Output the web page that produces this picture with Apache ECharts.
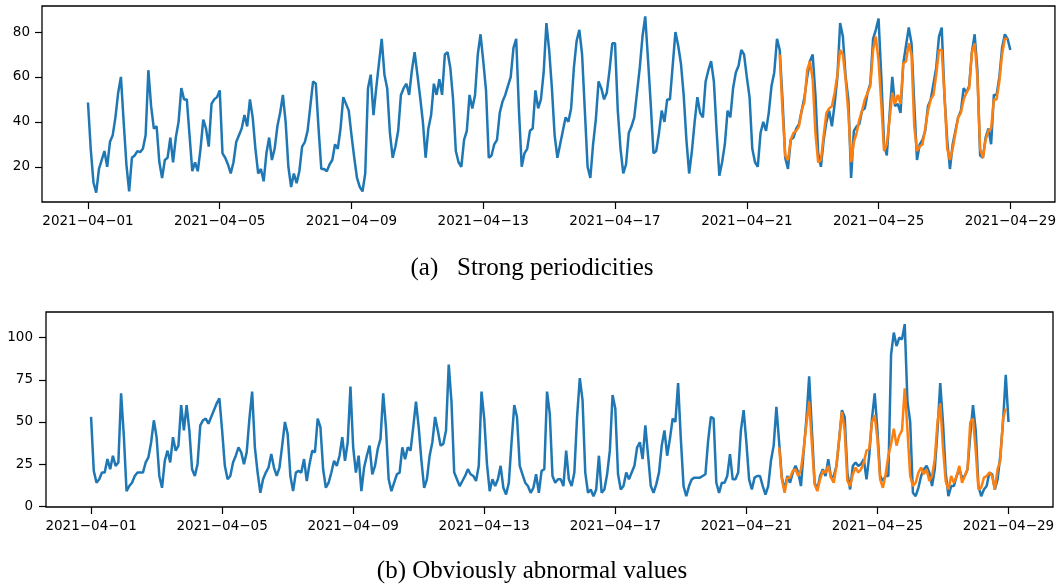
<!DOCTYPE html>
<html>
<head>
<meta charset="utf-8">
<script src="https://cdn.jsdelivr.net/npm/echarts@6/dist/echarts.min.js"></script>
<style>
  html, body { margin: 0; padding: 0; background: #fff; }
  #chart { width: 1059px; height: 587px; }
</style>
</head>
<body>
<div id="chart"></div>
<script>
// readings every 2 hours, starting 2021-04-01 00:00
const STEP_HOURS = 2;
const ORANGE_START_HOUR = 504; // 2021-04-22 00:00

const tickHours = [0, 96, 192, 288, 384, 480, 576, 672];
const tickLabels = ['2021\u221204\u221201', '2021\u221204\u221205', '2021\u221204\u221209', '2021\u221204\u221213',
  '2021\u221204\u221217', '2021\u221204\u221221', '2021\u221204\u221225', '2021\u221204\u221229'];

// (a) strong periodicities
const actualA = [
  48.6, 28, 13, 8.5, 19, 23, 27, 20, 31, 34, 42, 53,
  60, 40, 21, 9, 24, 25, 27, 26.5, 28, 34, 63, 47,
  37, 38, 22, 15, 23, 24, 33, 22, 33, 40, 55, 50,
  50, 34, 18, 22, 18, 28, 41, 37, 29, 48, 50, 51,
  54, 26, 24, 21, 17, 22, 31, 34, 37, 43, 38, 50,
  42, 28, 17, 19, 13.5, 26, 33, 23, 28, 38, 44, 52,
  40, 20, 11, 17, 12.7, 18, 29, 31, 36, 47, 58, 57,
  37, 19, 19, 18, 21, 23, 30, 28, 37, 51, 48, 45,
  34, 24, 15, 11, 9, 17, 55, 61, 43, 55, 66, 77,
  61, 55, 35, 24, 29, 36, 52, 55, 57, 52, 63, 71,
  61, 51, 40, 24, 37, 43, 57, 52, 59, 52, 70, 71,
  64, 50, 27, 22, 20, 32, 36, 52, 46, 52, 70, 79,
  67, 54, 24, 25, 30, 32, 44, 49, 52, 56, 60, 73,
  77, 45, 20, 26, 28, 36, 37, 54, 46, 50, 62, 84,
  72, 55, 34, 24, 30, 36, 42, 40, 46, 64, 76, 81,
  70, 45, 20, 15, 30, 41, 58, 55, 50, 53, 63, 75,
  75, 45, 28, 17, 21, 35, 38, 42, 53, 64, 78, 87,
  68, 48, 26, 27, 35, 45, 40, 50, 50, 65, 80, 74,
  66, 52, 32, 17, 27, 40, 51, 44, 42, 58, 63, 67,
  58, 36, 16, 22, 30, 45, 42, 55, 62, 65, 72, 70,
  60, 51, 28, 22, 20, 35, 40, 36, 44, 56, 62, 77,
  72, 50, 24, 19, 32, 33, 37, 39, 45, 51, 60, 67,
  70, 52, 26, 20, 32, 40, 45, 38, 48, 60, 84, 78,
  60, 50, 15, 36, 38, 39, 45, 46, 53, 57, 77, 81,
  86, 60, 30, 25, 43, 60, 47, 48, 44, 66, 74, 82,
  75, 48, 23, 30, 32, 36, 47, 50, 57, 64, 78, 82,
  52, 32, 19, 30, 36, 42, 45, 55, 53, 56, 71, 79,
  63, 25, 24, 33, 37, 30, 52, 52, 60, 73, 79, 77,
  72
];
const predictedA = [
  70, 45, 25, 23, 32, 35, 36, 38, 45, 49, 63, 67,
  59, 35, 22, 23, 34, 44, 46, 47, 53, 61, 72, 70,
  59, 44, 22, 31, 35, 41, 45, 50, 53, 56, 72, 78,
  67, 48, 27, 30, 41, 53, 48, 52, 48, 66, 67, 75,
  70, 38, 27, 29, 30, 37, 45, 50, 52, 61, 72, 72,
  52, 28, 23, 28, 35, 42, 44, 50, 53, 55, 71, 75,
  60, 28, 24, 32, 36, 37, 50, 50, 58, 70, 77, 77
];

// (b) obviously abnormal values
const actualB = [
  53, 21, 14, 16, 20, 20, 28, 22, 30, 24, 26, 67,
  42, 9, 12, 14, 18, 20, 20, 20, 26, 29, 38, 51,
  41, 18, 11, 27, 33, 26, 41, 33, 36, 60, 45, 60,
  45, 22, 18, 25, 48, 51, 52, 49, 53, 57, 61, 64,
  45, 24, 16, 18, 26, 30, 35, 32, 25, 32, 52, 68,
  35, 20, 8, 16, 20, 23, 31, 23, 18, 23, 36, 50,
  43, 18, 9, 20, 21, 20, 28, 15, 25, 33, 32, 52,
  47, 22, 11, 14, 20, 27, 24, 30, 41, 27, 38, 71,
  35, 20, 30, 9, 23, 30, 36, 19, 24, 34, 40, 67,
  47, 16, 9, 14, 19, 20, 35, 28, 35, 33, 47, 62,
  47, 27, 11, 16, 30, 38, 53, 45, 36, 37, 45, 84,
  62, 20, 16, 12, 15, 18, 22, 19, 18, 15, 24, 68,
  52, 25, 9, 16, 12, 16, 24, 11, 7, 14, 38, 60,
  53, 24, 19, 14, 12, 8, 11, 19, 8, 21, 22, 68,
  55, 18, 14, 16, 16, 12, 33, 16, 12, 20, 53, 76,
  63, 20, 8, 10, 6, 10, 30, 8, 10, 19, 33, 66,
  58, 19, 10, 12, 20, 16, 20, 24, 35, 38, 28, 48,
  30, 12, 8, 13, 20, 36, 45, 30, 40, 52, 50, 73,
  40, 12, 6, 12, 16, 17, 17, 17, 18, 19, 39, 53,
  52, 14, 8, 14, 14, 18, 31, 16, 16, 20, 45, 57,
  38, 16, 10, 17, 18, 18, 12, 7, 12, 27, 36, 59,
  38, 17, 10, 18, 14, 20, 24, 20, 12, 33, 52, 77,
  45, 14, 10, 18, 22, 18, 28, 17, 18, 24, 40, 57,
  53, 20, 10, 24, 26, 24, 25, 28, 16, 30, 52, 67,
  45, 18, 15, 18, 18, 90, 103, 95, 100, 99, 108, 62,
  50, 8, 6, 11, 18, 22, 24, 20, 12, 22, 45, 73,
  50, 20, 6, 12, 12, 18, 22, 17, 18, 22, 42, 60,
  45, 12, 6, 10, 12, 20, 19, 10, 16, 30, 50, 78,
  50
];
const predictedB = [
  35, 16, 8, 17, 17, 21, 22, 18, 22, 34, 49, 62,
  37, 13, 9, 16, 21, 20, 24, 17, 14, 24, 40, 56,
  45, 15, 12, 19, 23, 20, 22, 26, 33, 34, 50, 54,
  40, 16, 11, 19, 30, 37, 46, 36, 42, 45, 70, 45,
  18, 12, 14, 20, 23, 19, 22, 15, 18, 28, 50, 61,
  35, 15, 10, 18, 14, 18, 24, 14, 18, 22, 50, 52,
  33, 10, 11, 17, 18, 20, 18, 10, 22, 27, 52, 58
];

function toPairs(values, startHour) {
  return values.map((v, i) => [startHour + i * STEP_HOURS, v]);
}

const chart = echarts.init(document.getElementById('chart'), null, { renderer: 'canvas' });

const labelFont = { fontFamily: 'DejaVu Sans', fontSize: 13.5, color: '#000' };

function xAxisFor(gridIndex, min, max) {
  return {
    type: 'value',
    gridIndex: gridIndex,
    min: min,
    max: max,
    axisLine: { show: false, onZero: false },
    axisTick: { show: true, length: 7, customValues: tickHours, lineStyle: { color: '#000', width: 1.2 } },
    axisLabel: Object.assign({
      customValues: tickHours,
      margin: 12,
      formatter: v => tickLabels[Math.round(v / 96)]
    }, labelFont),
    splitLine: { show: false }
  };
}

function yAxisFor(gridIndex, min, max, ticks, margin) {
  return {
    type: 'value',
    gridIndex: gridIndex,
    min: min,
    max: max,
    axisLine: { show: false, onZero: false },
    axisTick: { show: true, length: 7, customValues: ticks, lineStyle: { color: '#000', width: 1.2 } },
    axisLabel: Object.assign({ customValues: ticks, margin: margin }, labelFont),
    splitLine: { show: false }
  };
}

function lineSeries(name, data, axisIndex, color, z) {
  return {
    name: name,
    type: 'line',
    xAxisIndex: axisIndex,
    yAxisIndex: axisIndex,
    data: data,
    showSymbol: false,
    z: z,
    lineStyle: { color: color, width: 2.5 },
    itemStyle: { color: color }
  };
}

const option = {
  animation: false,
  backgroundColor: '#fff',
  grid: [
    { left: 42, top: 6, width: 1014, height: 196, show: true, borderColor: '#000', borderWidth: 1.3 },
    { left: 46, top: 312, width: 1007, height: 195, show: true, borderColor: '#000', borderWidth: 1.3 }
  ],
  xAxis: [
    xAxisFor(0, -33.5, 704.5),
    xAxisFor(1, -33, 704.6)
  ],
  yAxis: [
    yAxisFor(0, 4.3, 91.6, [20, 40, 60, 80], 12),
    yAxisFor(1, -0.4, 115.2, [0, 25, 50, 75, 100], 13)
  ],
  series: [
    lineSeries('actual (a)', toPairs(actualA, 0), 0, '#1f77b4', 2),
    lineSeries('predicted (a)', toPairs(predictedA, ORANGE_START_HOUR), 0, '#ff7f0e', 3),
    lineSeries('actual (b)', toPairs(actualB, 0), 1, '#1f77b4', 2),
    lineSeries('predicted (b)', toPairs(predictedB, ORANGE_START_HOUR), 1, '#ff7f0e', 3)
  ],
  graphic: [
    {
      type: 'text',
      x: 532, y: 268,
      style: {
        text: '(a)   Strong periodicities',
        fontFamily: 'Liberation Serif', fontSize: 25, fill: '#000',
        textAlign: 'center', textVerticalAlign: 'middle'
      }
    },
    {
      type: 'text',
      x: 532, y: 571,
      style: {
        text: '(b) Obviously abnormal values',
        fontFamily: 'Liberation Serif', fontSize: 25, fill: '#000',
        textAlign: 'center', textVerticalAlign: 'middle'
      }
    }
  ]
};

chart.setOption(option);
</script>
</body>
</html>
